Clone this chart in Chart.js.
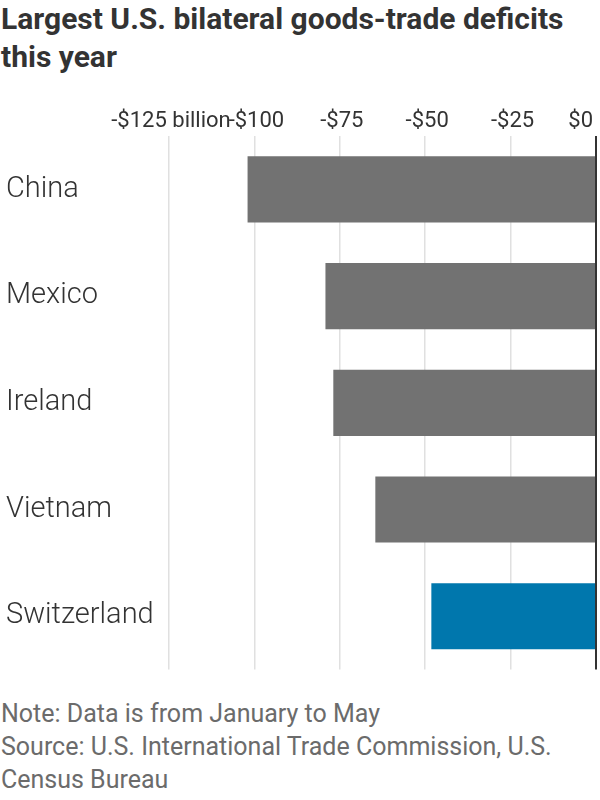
<!DOCTYPE html>
<html>
<head>
<meta charset="utf-8">
<script src="https://cdn.jsdelivr.net/npm/chart.js@4"></script>
<style>
  body { margin: 0; width: 600px; height: 800px; background: #fff; position: relative; overflow: hidden; }
  .title {
    position: absolute; top: 0; left: 1px; width: 565px;
    font-family: 'Liberation Sans Narrow', 'Roboto', sans-serif;
    font-weight: bold; font-size: 30px; line-height: 38px; color: #333;
  }
  .chart-wrap { position: absolute; top: 90px; left: 0; width: 600px; height: 600px; }
  .notes {
    position: absolute; top: 697px; left: 1px; width: 592px;
    font-family: 'Liberation Sans Narrow', 'Roboto', sans-serif;
    font-size: 25px; line-height: 33px; color: #6b6b6b;
  }
</style>
</head>
<body>
<div class="title">Largest U.S. bilateral goods-trade deficits this year</div>
<div class="chart-wrap"><canvas id="deficitChart"></canvas></div>
<div class="notes">Note: Data is from January to May<br>Source: U.S. International Trade Commission, U.S. Census Bureau</div>
<script>
// Data (billions of dollars, Jan-May)
const countries = ['China', 'Mexico', 'Ireland', 'Vietnam', 'Switzerland'];
const deficits = [-102.0, -79.2, -76.9, -64.6, -48.2];
const tickValues = [-125, -100, -75, -50, -25, 0];
const tickLabels = ['-$125 billion', '-$100', '-$75', '-$50', '-$25', '$0'];

const gray = '#727272';
const blue = '#0077ad';

// x tick labels sit above the plot; the last one is right-aligned to the zero line
const topTickLabels = {
    id: 'topTickLabels',
    afterDraw(chart) {
        const { ctx, chartArea, scales } = chart;
        ctx.save();
        ctx.font = "22px 'Liberation Sans Narrow', 'Roboto', sans-serif";
        ctx.fillStyle = '#333';
        ctx.textBaseline = 'alphabetic';
        tickValues.forEach((v, i) => {
            const x = scales.x.getPixelForValue(v);
            const last = i === tickValues.length - 1;
            ctx.textAlign = last ? 'right' : 'center';
            ctx.fillText(tickLabels[i], last ? x - 3 : x + 2, chartArea.top - 9);
        });
        ctx.restore();
    }
};

const ctx = document.getElementById('deficitChart').getContext('2d');
new Chart(ctx, {
    type: 'bar',
    data: {
        labels: countries,
        datasets: [{
            data: deficits,
            backgroundColor: countries.map(c => c === 'Switzerland' ? blue : gray),
            borderWidth: 0,
            barPercentage: 0.62,
            categoryPercentage: 1.0
        }]
    },
    options: {
        indexAxis: 'y',
        responsive: true,
        maintainAspectRatio: false,
        animation: false,
        layout: {
            padding: { left: 6, right: 4, top: 46, bottom: 10 }
        },
        plugins: {
            legend: { display: false },
            tooltip: { enabled: false }
        },
        scales: {
            x: {
                position: 'top',
                min: -125,
                max: 0,
                afterBuildTicks: axis => {
                    axis.ticks = tickValues.map(v => ({ value: v }));
                },
                ticks: { display: false },
                grid: {
                    drawTicks: false,
                    color: ctx => ctx.tick && ctx.tick.value === 0 ? '#333' : '#e0e0e0',
                    lineWidth: ctx => ctx.tick && ctx.tick.value === 0 ? 2 : 1.5
                },
                border: { display: false }
            },
            y: {
                afterFit: axis => { axis.width = 163; },
                ticks: {
                    crossAlign: 'far',
                    color: '#333',
                    font: { family: 'Roboto', size: 29, weight: '300' }
                },
                grid: { display: false },
                border: { display: false }
            }
        }
    },
    plugins: [topTickLabels]
});
</script>
</body>
</html>
